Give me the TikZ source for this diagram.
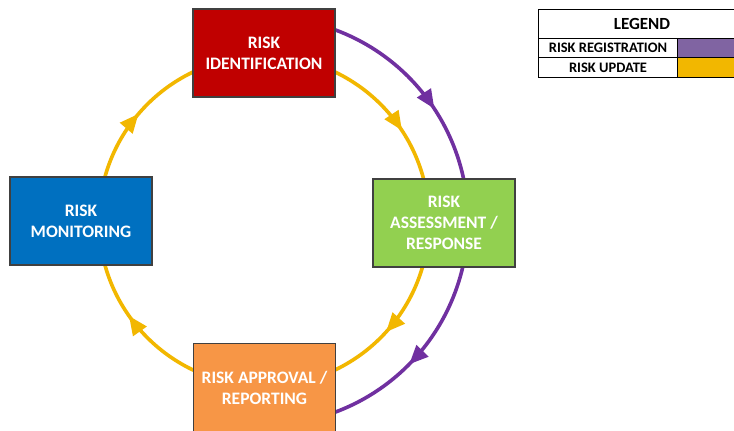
\documentclass[tikz,border=0pt]{standalone}
\usepackage{fontspec}
\setmainfont{Carlito}
\usetikzlibrary{arrows.meta,decorations.markings,calc}
\definecolor{rred}{HTML}{C00000}
\definecolor{rblue}{HTML}{0070C0}
\definecolor{rgreen}{HTML}{92D050}
\definecolor{rorange}{HTML}{F79646}
\definecolor{rpurple}{HTML}{7030A0}
\definecolor{lpurple}{HTML}{8064A2}
\definecolor{ryellow}{HTML}{F2B700}
\definecolor{rborder}{HTML}{404040}
\tikzset{
  stepbox/.style={draw=rborder, line width=1.3pt, minimum width=142pt, minimum height=88pt,
    text=white, font=\fontsize{17.5}{21}\selectfont\bfseries, align=center, inner sep=0pt},
  yarc/.style={draw=ryellow, line width=3.6pt},
  parc/.style={draw=rpurple, line width=3.6pt},
  ymark/.style={postaction={decorate, decoration={markings,
     mark=at position #1 with {\arrow[ryellow]{Triangle[length=19pt,width=16pt]}}}}},
  pmark/.style={postaction={decorate, decoration={markings,
     mark=at position #1 with {\arrow[rpurple]{Triangle[length=19pt,width=16pt]}}}}},
  legcell/.style={draw=black, line width=1pt, inner sep=0pt, font=\fontsize{14.5}{16}\selectfont\bfseries, text=black},
}
\begin{document}
\begin{tikzpicture}[x=1pt,y=1pt]
\useasboundingbox (0,0) rectangle (734,431);
\fill[white] (0,0) rectangle (734,431);
\coordinate (c) at (264,210);
% yellow cycle
\draw[yarc, ymark=0.63] (c) ++(90:165) arc[start angle=90, end angle=0, radius=165];
\draw[yarc, ymark=0.47] (c) ++(0:165) arc[start angle=0, end angle=-90, radius=165];
\draw[yarc, ymark=0.61] (c) ++(-90:165) arc[start angle=-90, end angle=-180, radius=165];
\draw[yarc, ymark=0.45] (c) ++(180:165) arc[start angle=180, end angle=90, radius=165];
% purple registration path
\draw[parc, pmark=0.26, pmark=0.82] (c) ++(69.6:204) arc[start angle=69.6, end angle=-69.7, radius=204];
% boxes
\node[stepbox, fill=rred] (ident) at (264,378) {RISK\\IDENTIFICATION};
\node[stepbox, fill=rgreen] (assess) at (444,208) {RISK\\ASSESSMENT /\\RESPONSE};
\node[stepbox, fill=rorange] (approv) at (264.5,43.5) {RISK APPROVAL /\\REPORTING};
\node[stepbox, fill=rblue] (monit) at (81,210) {RISK\\MONITORING};
% legend
\node[legcell, minimum width=198pt, minimum height=29pt, anchor=north west] (leghead) at (538,422) {};
\node[font=\fontsize{17}{19}\selectfont\bfseries, inner sep=0pt] (legtitle) at (642,407.5) {LEGEND};
\node[legcell, minimum width=139pt, minimum height=19pt, anchor=north west] (regtxt) at (538,393) {RISK REGISTRATION};
\node[legcell, minimum width=59pt, minimum height=19pt, anchor=north west, fill=lpurple] (regsw) at (677,393) {};
\node[legcell, minimum width=139pt, minimum height=20pt, anchor=north west] (updtxt) at (538,374) {RISK UPDATE};
\node[legcell, minimum width=59pt, minimum height=20pt, anchor=north west, fill=ryellow] (updsw) at (677,374) {};
\end{tikzpicture}
\end{document}
